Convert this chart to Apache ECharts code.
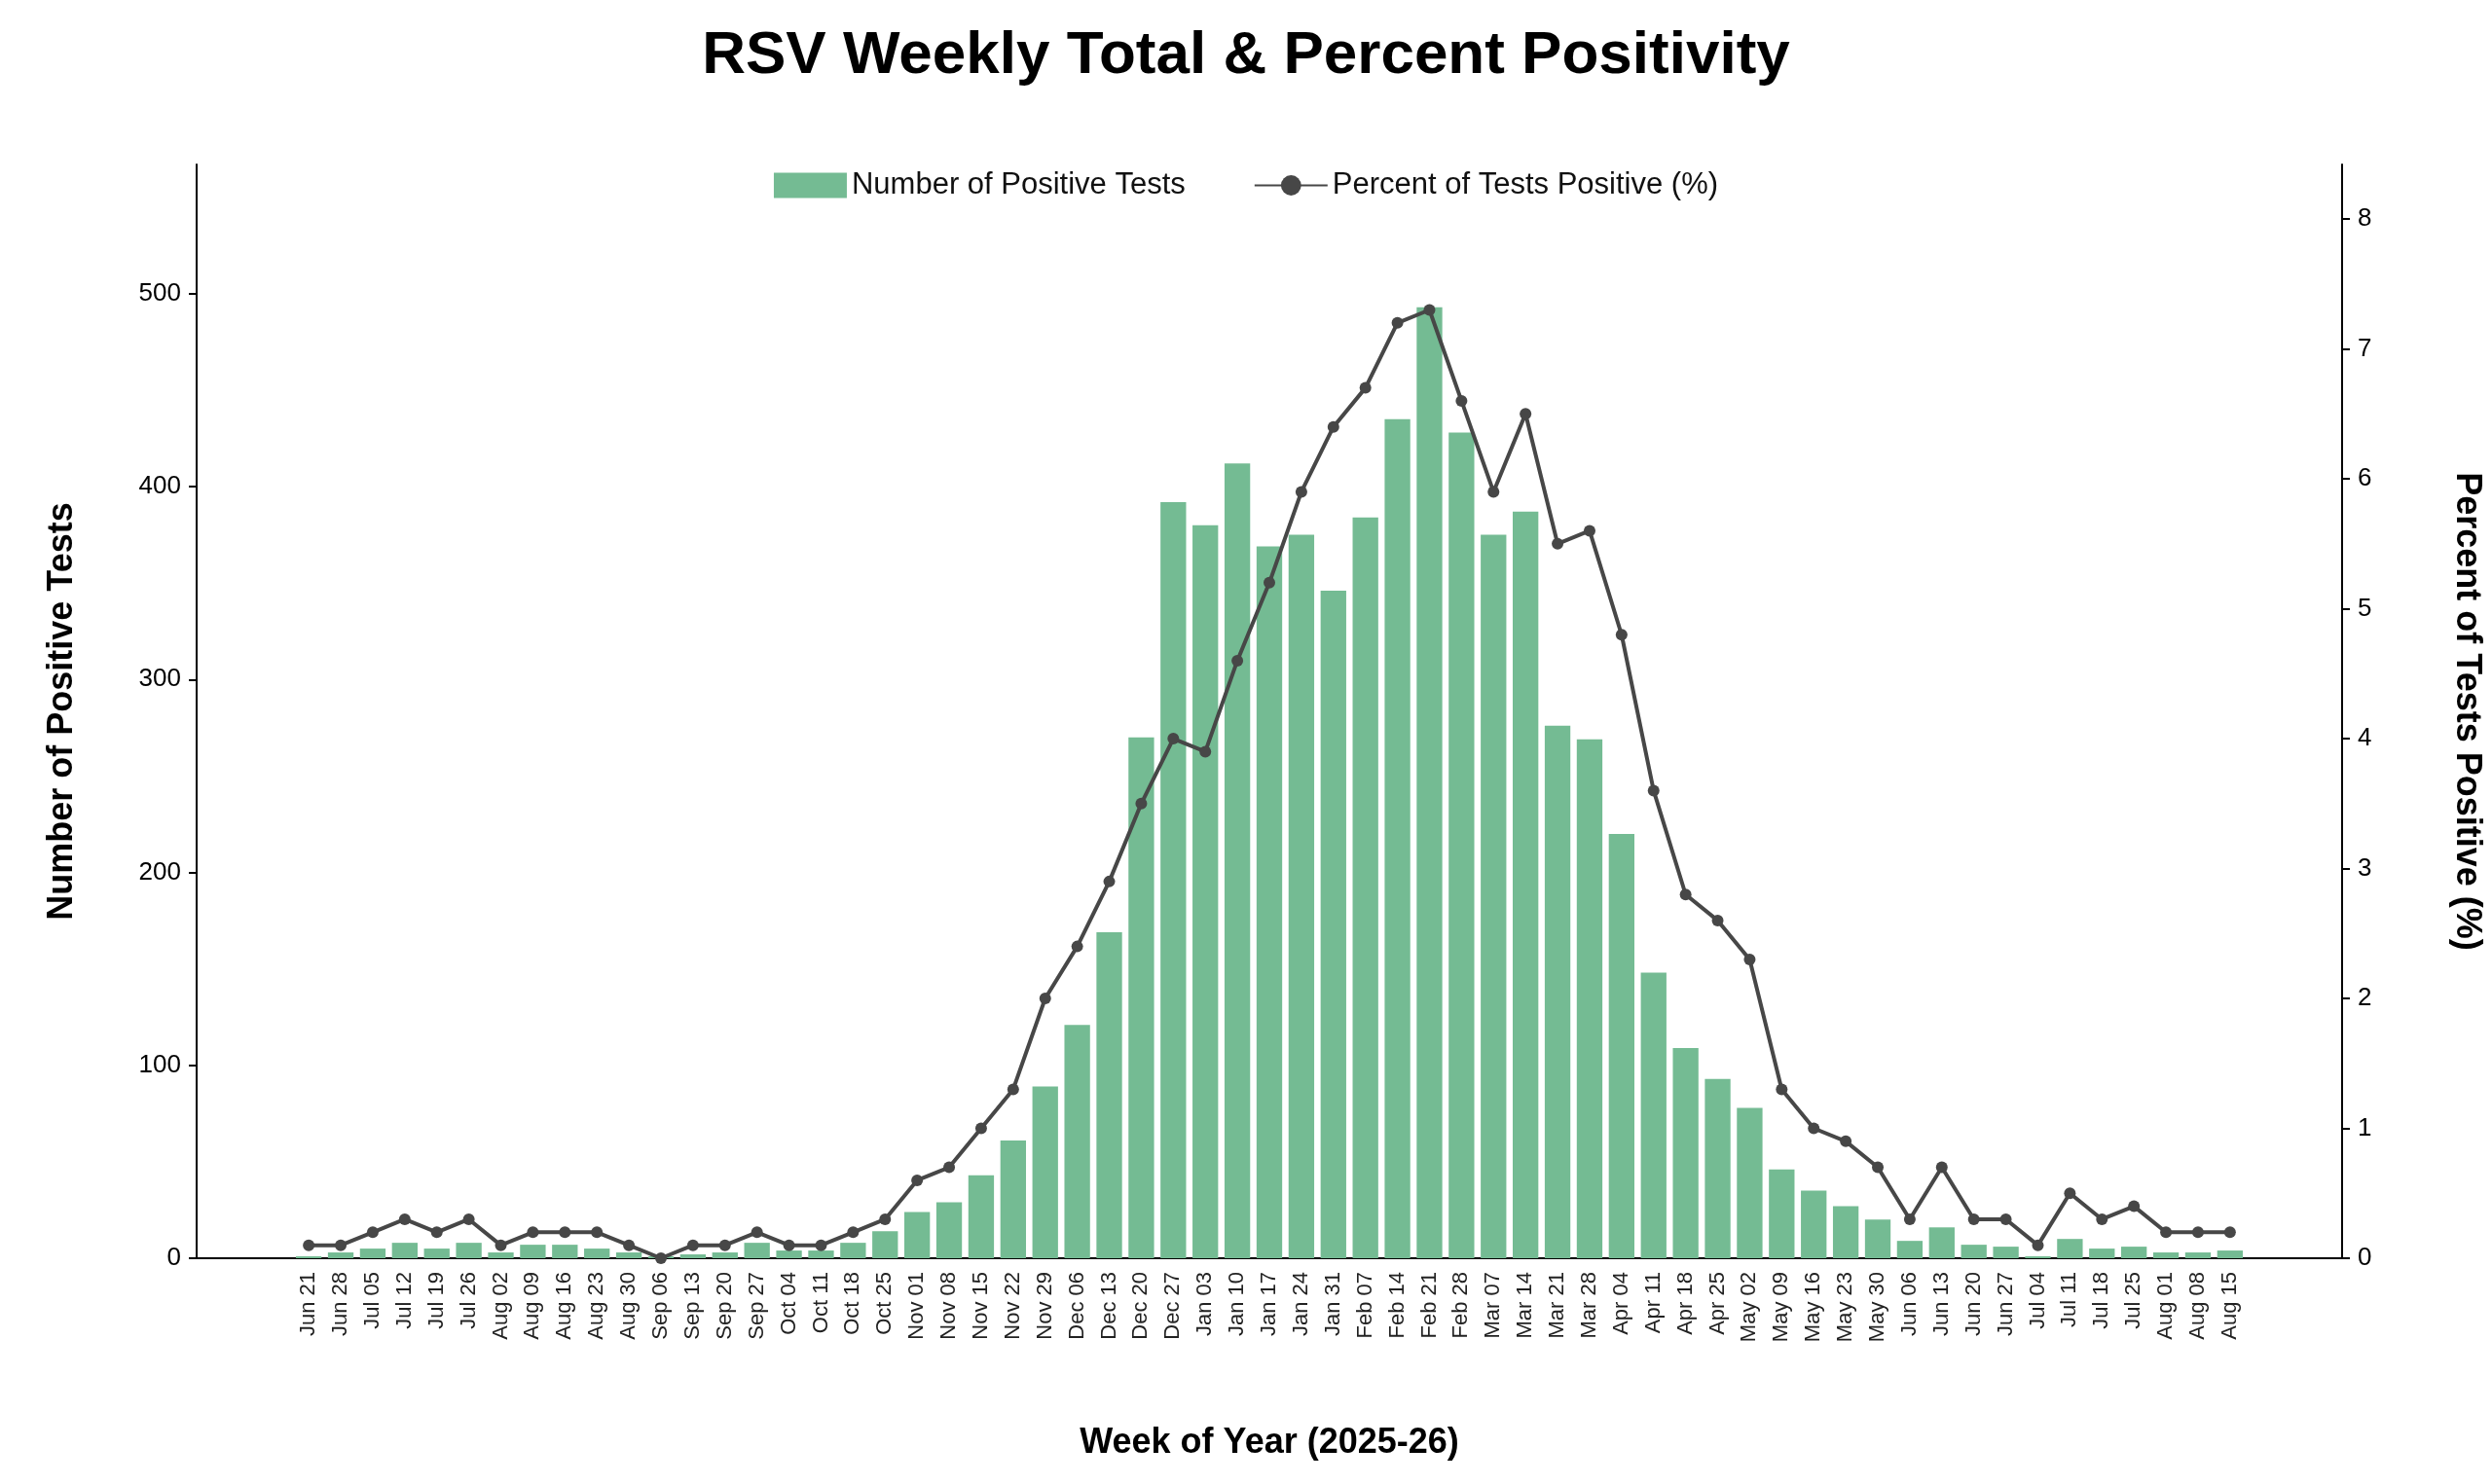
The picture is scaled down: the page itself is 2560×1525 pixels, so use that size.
<!DOCTYPE html>
<html><head><meta charset="utf-8">
<script src="https://cdn.jsdelivr.net/npm/echarts@6/dist/echarts.min.js"></script>
<style>html,body{margin:0;padding:0;background:#fff}#main{width:2560px;height:1525px}</style>
</head><body><div id="main"></div>
<script>
var weeks = ["Jun 21","Jun 28","Jul 05","Jul 12","Jul 19","Jul 26","Aug 02","Aug 09","Aug 16","Aug 23","Aug 30","Sep 06","Sep 13","Sep 20","Sep 27","Oct 04","Oct 11","Oct 18","Oct 25","Nov 01","Nov 08","Nov 15","Nov 22","Nov 29","Dec 06","Dec 13","Dec 20","Dec 27","Jan 03","Jan 10","Jan 17","Jan 24","Jan 31","Feb 07","Feb 14","Feb 21","Feb 28","Mar 07","Mar 14","Mar 21","Mar 28","Apr 04","Apr 11","Apr 18","Apr 25","May 02","May 09","May 16","May 23","May 30","Jun 06","Jun 13","Jun 20","Jun 27","Jul 04","Jul 11","Jul 18","Jul 25","Aug 01","Aug 08","Aug 15"];
var positives = [1,3,5,8,5,8,3,7,7,5,3,1,2,3,8,4,4,8,14,24,29,43,61,89,121,169,270,392,380,412,369,375,346,384,435,493,428,375,387,276,269,220,148,109,93,78,46,35,27,20,9,16,7,6,1,10,5,6,3,3,4];
var percent = [0.1,0.1,0.2,0.3,0.2,0.3,0.1,0.2,0.2,0.2,0.1,0.0,0.1,0.1,0.2,0.1,0.1,0.2,0.3,0.6,0.7,1.0,1.3,2.0,2.4,2.9,3.5,4.0,3.9,4.6,5.2,5.9,6.4,6.7,7.2,7.3,6.6,5.9,6.5,5.5,5.6,4.8,3.6,2.8,2.6,2.3,1.3,1.0,0.9,0.7,0.3,0.7,0.3,0.3,0.1,0.5,0.3,0.4,0.2,0.2,0.2];

var chart = echarts.init(document.getElementById('main'));
var font = 'Liberation Sans, Arial, sans-serif';
chart.setOption({
    textStyle: {fontFamily: font},
    title: {text: 'RSV Weekly Total & Percent Positivity', left: 'center', top: 22,
        textStyle: {fontSize: 62, fontWeight: 'bold', color: '#000', fontFamily: font}},
    legend: {top: 170, left: 'center', itemGap: 70, itemWidth: 75, itemHeight: 26,
        textStyle: {fontSize: 31, color: '#111'},
        data: [{name: 'Number of Positive Tests', icon: 'rect'}, {name: 'Percent of Tests Positive (%)'}]},
    grid: {left: 202, right: 149, top: 169, bottom: 232},
    xAxis: {type: 'category', data: weeks, min: -3, max: 63, boundaryGap: true,
        name: 'Week of Year (2025-26)', nameLocation: 'middle', nameGap: 172,
        nameTextStyle: {fontSize: 36, fontWeight: 'bold', color: '#000'},
        axisLine: {lineStyle: {color: '#000', width: 2}},
        axisTick: {show: false},
        axisLabel: {rotate: 90, interval: 0, fontSize: 22, color: '#222', margin: 14}},
    yAxis: [
        {type: 'value', min: 0, max: 567, interval: 100, splitLine: {show: false},
            name: 'Number of Positive Tests', nameLocation: 'middle', nameGap: 120, nameRotate: 90,
            nameTextStyle: {fontSize: 36, fontWeight: 'bold', color: '#000'},
            axisLine: {show: true, lineStyle: {color: '#000', width: 2}},
            axisTick: {show: true, length: 8, lineStyle: {color: '#000', width: 2}},
            axisLabel: {fontSize: 26, color: '#000', margin: 16, showMaxLabel: false}},
        {type: 'value', min: 0, max: 8.42, interval: 1, splitLine: {show: false},
            name: 'Percent of Tests Positive (%)', nameLocation: 'middle', nameGap: 110, nameRotate: -90,
            nameTextStyle: {fontSize: 36, fontWeight: 'bold', color: '#000'},
            axisLine: {show: true, lineStyle: {color: '#000', width: 2}},
            axisTick: {show: true, length: 8, lineStyle: {color: '#000', width: 2}},
            axisLabel: {fontSize: 26, color: '#000', margin: 16, showMaxLabel: false}}
    ],
    series: [
        {name: 'Number of Positive Tests', type: 'bar', data: positives, barWidth: '80%',
            itemStyle: {color: '#74bb93'}},
        {name: 'Percent of Tests Positive (%)', type: 'line', yAxisIndex: 1, data: percent,
            symbol: 'circle', symbolSize: 12, lineStyle: {color: '#474747', width: 4},
            itemStyle: {color: '#474747'}}
    ]
});
</script></body></html>
